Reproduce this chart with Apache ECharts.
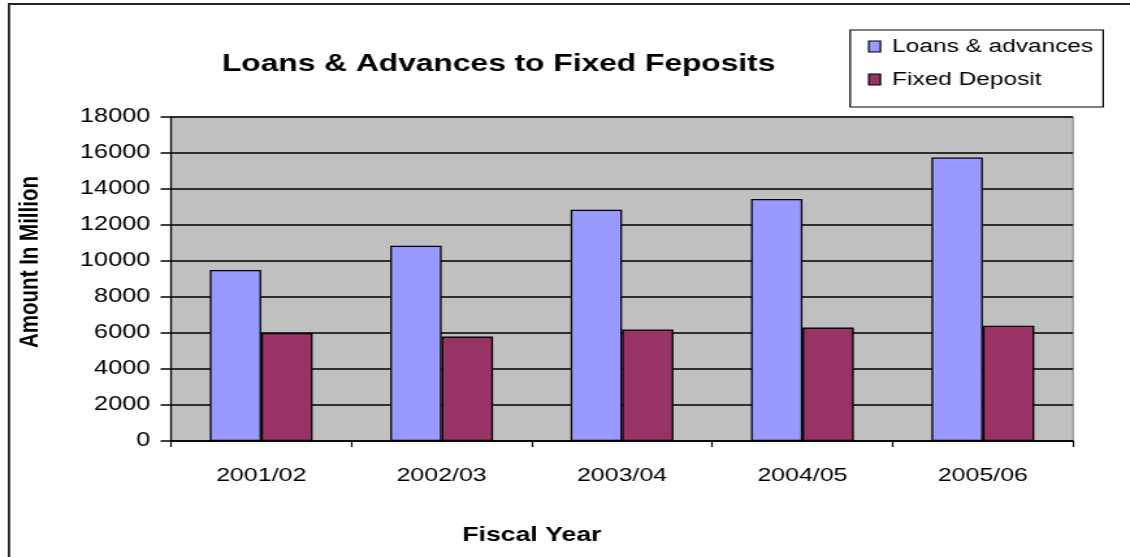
<!DOCTYPE html>
<html>
<head>
<meta charset="utf-8">
<script src="https://cdn.jsdelivr.net/npm/echarts@6/dist/echarts.min.js"></script>
<style>
  html, body { margin: 0; padding: 0; background: #fff; overflow: hidden; }
  /* The chart is laid out on a narrower canvas and widened, giving the broad lettering */
  #chart { width: 869px; height: 557px; transform: scaleX(1.30035); transform-origin: 0 0; }
</style>
</head>
<body>
<div id="chart"></div>
<script>
// Fiscal years on the x axis
const categories = ['2001/02', '2002/03', '2003/04', '2004/05', '2005/06'];
// Amounts in million
const loansAdvances = [9500, 10850, 12850, 13450, 15750];
const fixedDeposit = [6000, 5800, 6200, 6300, 6400];
// Value axis
const yMin = 0;
const yMax = 18000;
const yStep = 2000;

const FONT = '"Liberation Sans", Arial, sans-serif';

const chart = echarts.init(document.getElementById('chart'), null, { renderer: 'canvas' });

chart.setOption({
  animation: false,
  backgroundColor: '#ffffff',
  title: {
    text: 'Loans & Advances to Fixed Feposits',
    left: 383.5,
    top: 52,
    textAlign: 'center',
    padding: 0,
    textStyle: { fontFamily: FONT, fontSize: 24.4, fontWeight: 'bold', color: '#000' }
  },
  legend: {
    orient: 'vertical',
    left: 667.5,
    top: 37,
    padding: 0,
    itemWidth: 9,
    itemHeight: 11,
    itemGap: 14,
    icon: 'rect',
    itemStyle: { borderColor: '#000', borderWidth: 1.2 },
    textStyle: { fontFamily: FONT, fontSize: 18.8, color: '#000', padding: [0, 0, 0, 4] },
    data: ['Loans & advances', 'Fixed Deposit']
  },
  grid: {
    left: 131.5,
    right: 43.8,
    top: 117,
    bottom: 116,
    show: true,
    backgroundColor: '#c0c0c0',
    borderColor: '#808080',
    borderWidth: 1
  },
  xAxis: {
    type: 'category',
    data: categories,
    axisLine: { lineStyle: { color: '#000', width: 1.5 } },
    axisTick: { show: true, length: 6, lineStyle: { color: '#000', width: 1.2 } },
    axisLabel: { fontFamily: FONT, fontSize: 19.2, color: '#000', margin: 25 },
    splitLine: { show: false }
  },
  yAxis: {
    type: 'value',
    min: yMin,
    max: yMax,
    interval: yStep,
    axisLine: { show: true, lineStyle: { color: '#000', width: 1.3 } },
    axisTick: { show: true, length: 8, lineStyle: { color: '#000', width: 1.5 } },
    axisLabel: { fontFamily: FONT, fontSize: 19.4, color: '#000', margin: 16,
      formatter: v => String(v) },
    splitLine: { show: true, lineStyle: { color: '#000', width: 1.6 } }
  },
  series: [
    {
      name: 'Loans & advances',
      type: 'bar',
      data: loansAdvances,
      barGap: '0%',
      barCategoryGap: '43%',
      itemStyle: { color: '#9999ff', borderColor: '#000', borderWidth: 1.3 }
    },
    {
      name: 'Fixed Deposit',
      type: 'bar',
      data: fixedDeposit,
      itemStyle: { color: '#993366', borderColor: '#000', borderWidth: 1.3 }
    }
  ],
  graphic: [
    // chart frame
    { type: 'polyline', shape: { points: [[6.9, 560], [6.9, 4], [880, 4]] },
      style: { stroke: '#222', lineWidth: 1.8, fill: null }, silent: true },
    // legend frame
    { type: 'rect', shape: { x: 653.8, y: 30, width: 194.6, height: 77 },
      style: { stroke: '#000', lineWidth: 1.2, fill: '#fff' }, z: -1 },
    // axis names
    { type: 'text', x: 23, y: 262, rotation: Math.PI / 2,
      style: { text: 'Amount In Million', fontFamily: FONT, fontSize: 20.5,
      fontWeight: 'bold', fill: '#000', textAlign: 'center', textVerticalAlign: 'middle' } },
    { type: 'text', style: { text: 'Fiscal Year', x: 409, y: 535, fontFamily: FONT, fontSize: 20.5,
      fontWeight: 'bold', fill: '#000', textAlign: 'center', textVerticalAlign: 'middle' } }
  ]
});
</script>
</body>
</html>
